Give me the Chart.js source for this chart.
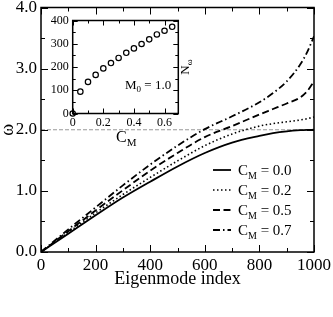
<!DOCTYPE html>
<html>
<head>
<meta charset="utf-8">
<script src="https://cdn.jsdelivr.net/npm/chart.js@4.4.4/dist/chart.umd.min.js"></script>
<style>
  html, body { margin: 0; padding: 0; background: #fff; }
  #wrap { position: relative; width: 333px; height: 317px; }
  #main { position: absolute; left: 0; top: 0; }
  #inset { position: absolute; left: 45px; top: 8px; }
</style>
</head>
<body>
<div id="wrap">
  <canvas id="main" width="333" height="317"></canvas>
  <canvas id="inset" width="150" height="127"></canvas>
</div>
<script>
// main panel: omega vs eigenmode index, one series per C_M
const modeIndex = [0, 100, 200, 300, 400, 500, 600, 700, 800, 850, 900, 950, 975, 1000];
const omegaC00 = [0, 0.30, 0.60, 0.89, 1.15, 1.40, 1.62, 1.79, 1.90, 1.945, 1.975, 1.993, 1.998, 2.0];
const omegaC02 = [0, 0.32, 0.64, 0.94, 1.22, 1.49, 1.74, 1.93, 2.06, 2.10, 2.13, 2.16, 2.18, 2.21];
const omegaC05 = [0, 0.34, 0.68, 1.01, 1.33, 1.62, 1.88, 2.06, 2.25, 2.34, 2.43, 2.53, 2.63, 2.79];
const omegaC07 = [0, 0.37, 0.73, 1.09, 1.43, 1.74, 2.01, 2.22, 2.45, 2.60, 2.79, 3.07, 3.27, 3.53];
const cmValues = [0.0, 0.2, 0.5, 0.7];
const cmLevel = 2.0;
const xTicks = [0, 200, 400, 600, 800, 1000];
const xMinor = [100, 300, 500, 700, 900];
const yTicks = [0, 1, 2, 3, 4];
const yMinor = [0.5, 1.5, 2.5, 3.5];

// inset: N_omega vs C_M at M0 = 1.0
const insetC = [0, 0.05, 0.1, 0.15, 0.2, 0.25, 0.3, 0.35, 0.4, 0.45, 0.5, 0.55, 0.6, 0.65];
const insetN = [0, 94, 136, 166, 194, 217, 239, 261, 280, 299, 319, 340, 356, 373];
const insetXTicks = [0, 0.2, 0.4, 0.6];
const insetXMinor = [0.1, 0.3, 0.5];
const insetYTicks = [0, 100, 200, 300, 400];
const insetYMinor = [50, 150, 250, 350];

Chart.defaults.font.family = "'Liberation Serif', 'Times New Roman', serif";
Chart.defaults.color = '#000';

function toPoints(xs, ys) {
  return xs.map((x, i) => ({ x: x, y: ys[i] }));
}

function curve(values, dash, width) {
  return {
    data: toPoints(modeIndex, values),
    borderColor: '#000',
    borderWidth: width,
    borderDash: dash,
    pointRadius: 0,
    cubicInterpolationMode: 'monotone',
    fill: false
  };
}

// text with a subscript: parts = [[text, size, dy], ...]
function subText(ctx, x, y, parts) {
  let cx = x;
  parts.forEach(p => {
    ctx.font = p[1] + "px 'Liberation Serif'";
    ctx.fillText(p[0], cx, y + p[2]);
    cx += ctx.measureText(p[0]).width;
  });
  return cx - x;
}

// inward ticks on all four sides plus the frame
function tickFrame(chart, spec) {
  const { ctx, chartArea: a, scales: { x, y } } = chart;
  ctx.save();
  ctx.strokeStyle = '#000';
  ctx.lineWidth = 1;
  const seg = (x1, y1, x2, y2) => { ctx.beginPath(); ctx.moveTo(x1, y1); ctx.lineTo(x2, y2); ctx.stroke(); };
  const xMarks = (vals, len) => vals.forEach(v => {
    const px = Math.round(x.getPixelForValue(v)) + 0.5;
    seg(px, a.bottom, px, a.bottom - len);
    seg(px, a.top, px, a.top + len);
  });
  const yMarks = (vals, len) => vals.forEach(v => {
    const py = Math.round(y.getPixelForValue(v)) + 0.5;
    seg(a.left, py, a.left + len, py);
    seg(a.right, py, a.right - len, py);
  });
  xMarks(spec.xMajor, spec.major);
  xMarks(spec.xMinor, spec.minor);
  yMarks(spec.yMajor, spec.major);
  yMarks(spec.yMinor, spec.minor);
  ctx.lineWidth = 1.5;
  ctx.strokeRect(a.left, a.top, a.right - a.left, a.bottom - a.top);
  ctx.restore();
}

const mainDecor = {
  id: 'mainDecor',
  afterDraw(chart) {
    tickFrame(chart, { xMajor: xTicks, xMinor: xMinor, yMajor: yTicks, yMinor: yMinor, major: 7, minor: 4 });
    const ctx = chart.ctx;
    ctx.save();
    ctx.fillStyle = '#000';
    ctx.textBaseline = 'alphabetic';
    // C_M label under the dashed level line
    subText(ctx, 116, 142, [['C', 16, 0], ['M', 11, 4]]);
    // legend
    cmValues.forEach((v, i) => {
      const ds = chart.data.datasets[i];
      const ly = 170 + i * 20;
      ctx.strokeStyle = '#000';
      ctx.lineWidth = ds.borderWidth;
      ctx.setLineDash(ds.borderDash);
      ctx.beginPath();
      ctx.moveTo(213, ly);
      ctx.lineTo(231, ly);
      ctx.stroke();
      ctx.setLineDash([]);
      subText(ctx, 238, ly + 5, [['C', 15, 0], ['M', 10, 4], [' = ' + v.toFixed(1), 15, 0]]);
    });
    ctx.restore();
  }
};

new Chart(document.getElementById('main'), {
  type: 'line',
  data: {
    datasets: [
      curve(omegaC00, [], 1.8),
      curve(omegaC02, [1.5, 2.5], 1.6),
      curve(omegaC05, [7, 3.5], 1.8),
      curve(omegaC07, [7, 3, 1.5, 3], 1.8),
      {
        data: [{ x: 0, y: cmLevel }, { x: 1000, y: cmLevel }],
        borderColor: '#999', borderWidth: 1, borderDash: [4, 2], pointRadius: 0
      }
    ]
  },
  options: {
    responsive: false,
    animation: false,
    layout: { padding: { top: 7.5, right: 19, left: 0, bottom: 0 } },
    plugins: { legend: { display: false }, tooltip: { enabled: false } },
    scales: {
      x: {
        type: 'linear', min: 0, max: 1000,
        grid: { display: false, drawTicks: false },
        border: { display: false },
        afterBuildTicks: s => { s.ticks = xTicks.map(v => ({ value: v })); },
        afterFit: s => { s.height = 65; s.paddingLeft = 0; s.paddingRight = 0; },
        ticks: { font: { size: 17 }, padding: 3, maxRotation: 0, autoSkip: false, callback: v => String(v) },
        title: { display: true, text: 'Eigenmode index', font: { size: 18 }, padding: { top: 0, bottom: 27 } }
      },
      y: {
        type: 'linear', min: 0, max: 4,
        grid: { display: false, drawTicks: false },
        border: { display: false },
        afterBuildTicks: s => { s.ticks = yTicks.map(v => ({ value: v })); },
        afterFit: s => { s.width = 41; s.paddingTop = 0; s.paddingBottom = 0; },
        ticks: { font: { size: 17 }, padding: 4, callback: v => v.toFixed(1) },
        title: { display: true, text: 'ω', font: { size: 18 }, padding: { top: -3, bottom: 0 } }
      }
    }
  },
  plugins: [mainDecor]
});

const insetDecor = {
  id: 'insetDecor',
  afterDraw(chart) {
    tickFrame(chart, { xMajor: insetXTicks, xMinor: insetXMinor, yMajor: insetYTicks, yMinor: insetYMinor, major: 5, minor: 3 });
    const ctx = chart.ctx;
    ctx.save();
    ctx.fillStyle = '#000';
    ctx.textBaseline = 'alphabetic';
    subText(ctx, 80, 81, [['M', 13, 0], ['0', 9, 3], [' = 1.0', 13, 0]]);
    // N_omega, rotated like a y axis title
    ctx.translate(144, 59);
    ctx.rotate(-Math.PI / 2);
    ctx.font = "13px 'Liberation Serif'";
    const w = ctx.measureText('N').width + 6;
    subText(ctx, -w / 2, 0, [['N', 13, 0], ['ω', 9, 3]]);
    ctx.restore();
  }
};

new Chart(document.getElementById('inset'), {
  type: 'scatter',
  data: {
    datasets: [{
      data: toPoints(insetC, insetN),
      showLine: false,
      pointRadius: 2.7,
      pointBorderWidth: 1.2,
      pointBorderColor: '#000',
      pointBackgroundColor: '#fff',
      clip: false
    }]
  },
  options: {
    responsive: false,
    animation: false,
    layout: { padding: { top: 12.5, right: 16.7, left: 0, bottom: 0 } },
    plugins: { legend: { display: false }, tooltip: { enabled: false } },
    scales: {
      x: {
        type: 'linear', min: 0, max: 0.69,
        grid: { display: false, drawTicks: false },
        border: { display: false },
        afterBuildTicks: s => { s.ticks = insetXTicks.map(v => ({ value: v })); },
        afterFit: s => { s.height = 21.5; s.paddingLeft = 0; s.paddingRight = 0; },
        ticks: { font: { size: 12 }, padding: 2, maxRotation: 0, autoSkip: false, callback: v => String(v) }
      },
      y: {
        type: 'linear', min: 0, max: 400,
        grid: { display: false, drawTicks: false },
        border: { display: false },
        afterBuildTicks: s => { s.ticks = insetYTicks.map(v => ({ value: v })); },
        afterFit: s => { s.width = 27.7; s.paddingTop = 0; s.paddingBottom = 0; },
        ticks: { font: { size: 12 }, padding: 4, callback: v => String(v) }
      }
    }
  },
  plugins: [insetDecor]
});
</script>
</body>
</html>
